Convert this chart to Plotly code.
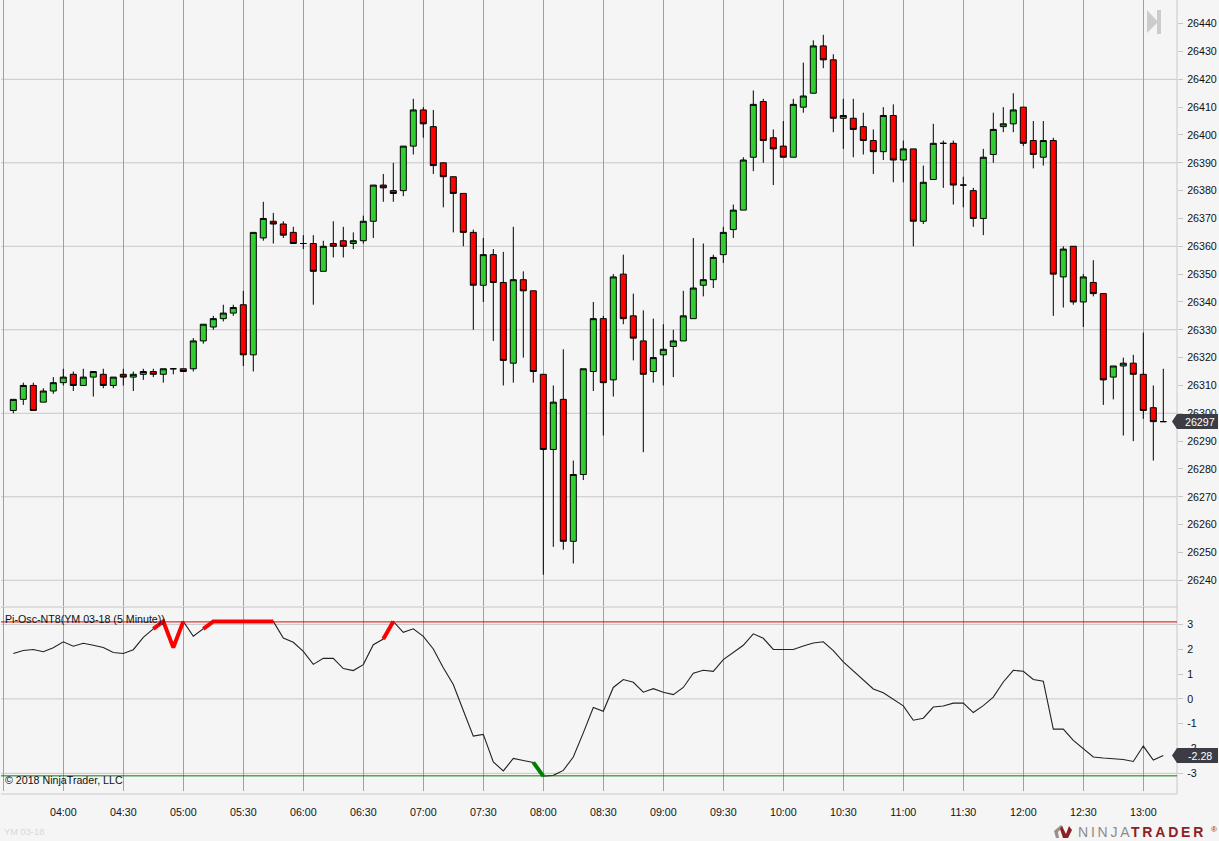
"""YM 03-18 5 minute chart with Pi-Osc oscillator panel, NinjaTrader look."""

import pandas as pd
import plotly.graph_objects as go
from plotly.subplots import make_subplots

W, H = 1219, 841

# bars: 03:35 -> 13:10
TIMES = pd.date_range("2018-01-05 03:35", "2018-01-05 13:10", freq="5min")

OPEN = [
    26301, 26305, 26310, 26304, 26308, 26311, 26314, 26310, 26313, 26314,
    26310, 26314, 26313, 26314, 26315, 26314, 26316, 26316, 26316, 26326,
    26331, 26334, 26336, 26339, 26321, 26363, 26369, 26368, 26365, 26361,
    26361, 26351, 26361, 26362, 26361, 26362, 26369, 26382, 26380, 26380,
    26396, 26409, 26403, 26390, 26385, 26379, 26365, 26346, 26357, 26347,
    26318, 26348, 26344, 26314, 26287, 26305, 26254, 26278, 26315, 26334,
    26312, 26350, 26335, 26326, 26315, 26321, 26324, 26326, 26334, 26346,
    26348, 26357, 26366, 26373, 26392, 26412, 26399, 26396, 26392, 26410,
    26415, 26432, 26427, 26406, 26406, 26403, 26398, 26394, 26407, 26391,
    26395, 26369, 26384, 26397, 26397, 26382, 26380, 26370, 26393, 26403,
    26404, 26410, 26398, 26392, 26398, 26349, 26360, 26340, 26347, 26343,
    26313, 26317, 26318, 26314, 26302, 26297,
]
HIGH = [
    26305, 26311, 26311, 26309, 26313, 26316, 26315, 26316, 26315, 26316,
    26313, 26316, 26315, 26316, 26316, 26316, 26316, 26316, 26327, 26332,
    26335, 26339, 26339, 26344, 26365, 26376, 26372, 26369, 26367, 26364,
    26364, 26362, 26369, 26367, 26365, 26371, 26382, 26386, 26390, 26396,
    26413, 26410, 26409, 26390, 26385, 26379, 26366, 26363, 26359, 26358,
    26367, 26351, 26344, 26314, 26310, 26323, 26283, 26316, 26340, 26335,
    26350, 26357, 26343, 26337, 26334, 26332, 26330, 26344, 26363, 26361,
    26357, 26367, 26375, 26392, 26416, 26413, 26402, 26405, 26413, 26426,
    26434, 26436, 26429, 26413, 26413, 26408, 26402, 26410, 26411, 26398,
    26395, 26389, 26404, 26398, 26398, 26385, 26381, 26395, 26408, 26410,
    26415, 26410, 26405, 26405, 26399, 26360, 26360, 26350, 26355, 26343,
    26317, 26320, 26321, 26329, 26310, 26316,
]
LOW = [
    26300, 26303, 26301, 26304, 26307, 26310, 26308, 26310, 26306, 26309,
    26309, 26310, 26308, 26312, 26313, 26311, 26314, 26315, 26315, 26325,
    26330, 26333, 26335, 26317, 26315, 26362, 26361, 26363, 26361, 26359,
    26339, 26351, 26356, 26356, 26359, 26361, 26363, 26376, 26376, 26378,
    26393, 26399, 26386, 26374, 26365, 26360, 26330, 26340, 26326, 26310,
    26311, 26320, 26311, 26242, 26252, 26251, 26246, 26276, 26308, 26292,
    26306, 26332, 26319, 26286, 26311, 26310, 26313, 26326, 26334, 26342,
    26345, 26354, 26363, 26373, 26387, 26390, 26382, 26392, 26392, 26408,
    26415, 26424, 26401, 26395, 26392, 26393, 26386, 26391, 26383, 26383,
    26360, 26368, 26384, 26381, 26375, 26374, 26367, 26364, 26390, 26401,
    26401, 26396, 26388, 26389, 26335, 26338, 26339, 26331, 26342, 26303,
    26305, 26292, 26290, 26298, 26283, 26297,
]
CLOSE = [
    26305, 26310, 26301, 26308, 26311, 26313, 26310, 26313, 26315, 26310,
    26313, 26313, 26314, 26315, 26314, 26316, 26316, 26315, 26326, 26332,
    26334, 26336, 26338, 26321, 26365, 26370, 26368, 26364, 26361, 26361,
    26351, 26360, 26360, 26360, 26362, 26369, 26382, 26381, 26379, 26396,
    26409, 26404, 26389, 26385, 26379, 26365, 26346, 26357, 26347, 26319,
    26348, 26344, 26315, 26287, 26304, 26254, 26278, 26316, 26334, 26311,
    26349, 26334, 26327, 26314, 26320, 26323, 26326, 26335, 26345, 26348,
    26356, 26365, 26373, 26391, 26411, 26398, 26395, 26392, 26411, 26414,
    26432, 26427, 26406, 26407, 26402, 26398, 26394, 26407, 26391, 26395,
    26369, 26383, 26397, 26397, 26382, 26382, 26370, 26392, 26402, 26404,
    26409, 26397, 26393, 26398, 26350, 26359, 26340, 26349, 26343, 26312,
    26317, 26318, 26314, 26301, 26297, 26297,
]

OSC = [
    1.83, 1.95, 1.99, 1.90, 2.06, 2.30, 2.12, 2.24, 2.16, 2.07,
    1.87, 1.83, 1.98, 2.48, 2.82, 3.12, 2.07, 3.12, 2.52, 2.82,
    3.12, 3.12, 3.12, 3.12, 3.12, 3.12, 3.12, 2.45, 2.28, 1.91,
    1.39, 1.63, 1.63, 1.22, 1.14, 1.38, 2.18, 2.41, 3.12, 2.68,
    2.82, 2.52, 2.01, 1.25, 0.58, -0.47, -1.50, -1.43, -2.54, -2.90,
    -2.40, -2.48, -2.56, -3.11, -3.08, -2.88, -2.34, -1.37, -0.35, -0.50,
    0.46, 0.78, 0.67, 0.27, 0.41, 0.27, 0.17, 0.46, 1.03, 1.15,
    1.11, 1.58, 1.87, 2.16, 2.62, 2.44, 1.99, 1.99, 1.99, 2.13,
    2.25, 2.30, 1.94, 1.49, 1.12, 0.76, 0.40, 0.25, -0.03, -0.28,
    -0.86, -0.78, -0.33, -0.29, -0.17, -0.17, -0.55, -0.27, 0.07, 0.68,
    1.15, 1.11, 0.78, 0.71, -1.22, -1.22, -1.67, -1.99, -2.34, -2.38,
    -2.40, -2.44, -2.52, -1.90, -2.46, -2.28,
]

# stretches of the oscillator that get the heavy colour (first bar, last bar)
RED_RUNS = [(14, 17), (19, 26), (37, 38)]
GREEN_RUNS = [(52, 53)]

PRICE_TICKS = list(range(26240, 26450, 10))
PRICE_GRID = list(range(26240, 26430, 30))
OSC_TICKS = [-3, -2, -1, 0, 1, 2, 3]
OSC_GRID = [-3, 0, 3]
OSC_UPPER, OSC_LOWER = 3.1, -3.1
LAST_PRICE, LAST_OSC = "26297", "-2.28"

BG = "#f5f5f5"
GRID_H = "#c8c8c8"
GRID_V = "#a0a0a0"
FONT = dict(family="Liberation Sans, Arial, sans-serif", size=10.67, color="#111111")


def px(x):
    return x / W


def py(y):
    return 1 - y / H


def path(points):
    return "M" + " L".join(f"{px(x):.5f},{py(y):.5f}" for x, y in points) + " Z"


def paper_line(x0, y0, x1, y1, colour=GRID_H):
    fig.add_shape(
        type="line", xref="paper", yref="paper",
        x0=px(x0), y0=py(y0), x1=px(x1), y1=py(y1),
        line=dict(color=colour, width=1), layer="below",
    )


def label(text, x, y, **kw):
    font = dict(FONT)
    font.update(kw.pop("font", {}))
    fig.add_annotation(
        text=text, xref="paper", yref="paper", x=px(x), y=py(y),
        xanchor=kw.pop("xanchor", "left"), yanchor="middle",
        showarrow=False, font=font, borderpad=0, **kw,
    )


def tag(text, y0, y1):
    # dark price tag on the right axis
    mid = (y0 + y1) / 2
    fig.add_shape(
        type="path", xref="paper", yref="paper",
        path=path([(1172, mid), (1177, y0), (1218, y0), (1218, y1), (1177, y1)]),
        fillcolor="#3c3c44", line=dict(width=0), layer="above",
    )
    label(text, 1200, mid, xanchor="center", font=dict(color="#ffffff"))


fig = make_subplots(rows=2, cols=1, shared_xaxes=True)

fig.add_trace(
    go.Candlestick(
        x=TIMES, open=OPEN, high=HIGH, low=LOW, close=CLOSE,
        increasing=dict(fillcolor="#32cd32", line=dict(color="#000000", width=1)),
        decreasing=dict(fillcolor="#ff0000", line=dict(color="#000000", width=1)),
        whiskerwidth=0,
        showlegend=False,
    ),
    row=1, col=1,
)

fig.add_trace(
    go.Scatter(
        x=TIMES, y=OSC, mode="lines",
        line=dict(color="#222222", width=1.1),
        showlegend=False,
    ),
    row=2, col=1,
)
for runs, colour in ((RED_RUNS, "#ff0000"), (GREEN_RUNS, "#008000")):
    for first, last in runs:
        fig.add_trace(
            go.Scatter(
                x=TIMES[first:last + 1], y=OSC[first:last + 1], mode="lines",
                line=dict(color=colour, width=4),
                showlegend=False,
            ),
            row=2, col=1,
        )

for level in PRICE_GRID:
    fig.add_hline(y=level, line=dict(color=GRID_H, width=1), layer="below", row=1, col=1)
for level in OSC_GRID:
    fig.add_hline(y=level, line=dict(color=GRID_H, width=1), layer="below", row=2, col=1)
fig.add_hline(y=OSC_UPPER, line=dict(color="#e00000", width=1), layer="above", row=2, col=1)
fig.add_hline(y=OSC_LOWER, line=dict(color="#008000", width=1), layer="above", row=2, col=1)

axis_x = dict(
    domain=[px(1), px(1177)],
    range=["2018-01-05 03:28:51", "2018-01-05 13:16:51"],
    type="date",
    dtick=30 * 60 * 1000,
    tick0="2018-01-05 04:00",
    tickformat="%H:%M",
    showgrid=True,
    gridcolor=GRID_V,
    gridwidth=1,
    zeroline=False,
    showline=False,
)
axis_y = dict(
    side="right",
    showgrid=False,
    zeroline=False,
    showline=False,
    ticks="outside",
    ticklen=5,
    tickwidth=1,
    tickcolor=GRID_H,
    tickfont=FONT,
    ticklabelstandoff=2,
    tickmode="array",
    anchor="x",
    automargin=False,
)

fig.update_layout(
    width=W,
    height=H,
    margin=dict(l=0, r=0, t=0, b=0),
    paper_bgcolor=BG,
    plot_bgcolor=BG,
    font=FONT,
    showlegend=False,
    autosize=False,
    boxgap=0.4,
    boxgroupgap=0,
    xaxis=dict(axis_x, rangeslider=dict(visible=False), showticklabels=False, ticks=""),
    xaxis2=dict(
        axis_x, showticklabels=True, ticks="outside", ticklen=11,
        tickcolor="rgba(0,0,0,0)", tickfont=FONT,
    ),
    yaxis=dict(
        axis_y, domain=[py(606), 1], range=[26230.75, 26448.5],
        tickvals=PRICE_TICKS, ticktext=[str(v) for v in PRICE_TICKS],
    ),
    yaxis2=dict(
        axis_y, domain=[py(791), py(607)], range=[-3.71, 3.70], anchor="x2",
        tickvals=OSC_TICKS, ticktext=[str(v) for v in OSC_TICKS],
    ),
)

# panel frame
paper_line(1, 607, 1177, 607)
paper_line(1, 794, 1177, 794)
paper_line(1177, 0, 1177, 794)

tag(LAST_PRICE, 414, 429)
tag(LAST_OSC, 748, 763)

label("Pi-Osc-NT8(YM 03-18 (5 Minute))", 4, 619)
label("© 2018 NinjaTrader, LLC", 4, 780)
label("YM 03-18", 3, 832, font=dict(color="#d8d8d8", size=9.3))

# skip-to-end button, top right
fig.add_shape(
    type="path", xref="paper", yref="paper",
    path=path([(1147, 10), (1158, 22), (1147, 33)]),
    fillcolor="#cccccc", line=dict(width=0),
)
fig.add_shape(
    type="rect", xref="paper", yref="paper",
    x0=px(1157), x1=px(1161), y0=py(34), y1=py(10),
    fillcolor="#cccccc", line=dict(width=0),
)

# vendor logo, bottom right
fig.add_shape(
    type="path", xref="paper", yref="paper",
    path=path([(1061, 825), (1054, 831), (1056, 838), (1059, 838), (1058, 832), (1063, 827)]),
    fillcolor="#9b8f88", line=dict(width=0),
)
fig.add_shape(
    type="path", xref="paper", yref="paper",
    path=path([(1062, 826), (1066, 834), (1069, 826), (1072, 830), (1068, 838), (1063, 838), (1060, 829)]),
    fillcolor="#8e1f24", line=dict(width=0),
)
label("N\u2009I\u2009N\u2009J\u2009A", 1077, 832, font=dict(color="#8c8c8c", size=14))
label("<b>T\u2009R\u2009A\u2009D\u2009E\u2009R</b>", 1130, 832, font=dict(color="#8e1f24", size=14))
label("®", 1210, 829, font=dict(color="#8e1f24", size=8))

fig.write_html(
    "out.html",
    config=dict(displayModeBar=False),
    post_script="document.body.style.margin='0';document.body.style.background='#f5f5f5';",
)
